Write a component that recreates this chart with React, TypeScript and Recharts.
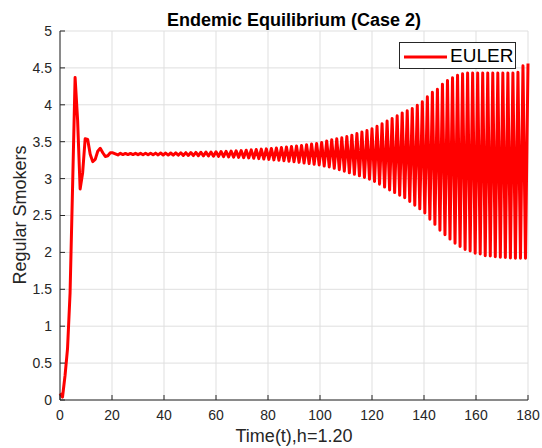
import { CartesianGrid, Line, LineChart, XAxis, YAxis } from "recharts";

// Euler iterates of the regular-smoker class
const timeStep = 180 / 186;
const regularSmokers = [
  0.09, 0.04, 0.33, 0.7, 1.45, 2.89, 4.37, 3.79, 2.86, 3.08,
  3.54, 3.53, 3.33, 3.23, 3.26, 3.37, 3.41, 3.35, 3.3, 3.31,
  3.35, 3.35, 3.335, 3.32, 3.343, 3.326, 3.341, 3.325, 3.341, 3.325,
  3.342, 3.324, 3.342, 3.323, 3.343, 3.322, 3.344, 3.322, 3.345, 3.321,
  3.346, 3.32, 3.346, 3.319, 3.347, 3.318, 3.349, 3.317, 3.35, 3.315,
  3.351, 3.314, 3.353, 3.312, 3.355, 3.31, 3.357, 3.308, 3.359, 3.306,
  3.361, 3.303, 3.364, 3.301, 3.367, 3.298, 3.37, 3.294, 3.373, 3.291,
  3.376, 3.288, 3.379, 3.284, 3.384, 3.28, 3.389, 3.275, 3.394, 3.27,
  3.399, 3.265, 3.403, 3.26, 3.409, 3.254, 3.415, 3.249, 3.421, 3.242,
  3.428, 3.235, 3.435, 3.228, 3.442, 3.22, 3.45, 3.212, 3.459, 3.203,
  3.468, 3.194, 3.477, 3.185, 3.49, 3.17, 3.51, 3.158, 3.528, 3.14,
  3.54, 3.12, 3.553, 3.1, 3.57, 3.078, 3.588, 3.058, 3.61, 3.038,
  3.632, 3.016, 3.652, 2.992, 3.675, 2.96, 3.71, 2.925, 3.743, 2.885,
  3.78, 2.845, 3.815, 2.81, 3.85, 2.775, 3.89, 2.74, 3.92, 2.69,
  3.95, 2.64, 3.995, 2.59, 4.04, 2.535, 4.11, 2.45, 4.17, 2.38,
  4.21, 2.3, 4.28, 2.24, 4.33, 2.18, 4.365, 2.125, 4.4, 2.08,
  4.42, 2.04, 4.43, 2.02, 4.43, 1.99, 4.43, 1.98, 4.43, 1.955,
  4.43, 1.95, 4.43, 1.94, 4.43, 1.935, 4.43, 1.93, 4.43, 1.925,
  4.43, 1.92, 4.44, 1.92, 4.53, 1.92, 4.56,
];

const timeTicks = [0, 20, 40, 60, 80, 100, 120, 140, 160, 180];
const levelTicks = [0, 0.5, 1, 1.5, 2, 2.5, 3, 3.5, 4, 4.5, 5];

const chartData = regularSmokers.map((value, index) => ({
  time: index * timeStep,
  smokers: value,
}));

const FONT = "Arial, 'Liberation Sans', Helvetica, sans-serif";
const INK = "#262626";

export default function App() {
  return (
    <div
      style={{
        position: "fixed",
        left: 0,
        top: 0,
        width: 542,
        height: 448,
        background: "#fff",
        fontFamily: FONT,
        overflow: "hidden",
      }}
    >
      <LineChart
        width={542}
        height={448}
        data={chartData}
        margin={{ top: 31, right: 14, bottom: 0, left: 0 }}
      >
        <CartesianGrid stroke="#dfdfdf" />
        <XAxis
          dataKey="time"
          type="number"
          domain={[0, 180]}
          ticks={timeTicks}
          interval={0}
          height={48}
          stroke={INK}
          tickSize={-5}
          tickMargin={15}
          tick={{ fill: INK, fontSize: 14, fontFamily: FONT }}
        />
        <XAxis
          xAxisId="top"
          orientation="top"
          type="number"
          domain={[0, 180]}
          ticks={timeTicks}
          interval={0}
          height={0}
          stroke={INK}
          tickSize={-5}
          tick={false}
        />
        <YAxis
          type="number"
          domain={[0, 5]}
          ticks={levelTicks}
          interval={0}
          width={60}
          stroke={INK}
          tickSize={-5}
          tickMargin={13}
          tick={{ fill: INK, fontSize: 14, fontFamily: FONT }}
        />
        <YAxis
          yAxisId="right"
          orientation="right"
          type="number"
          domain={[0, 5]}
          ticks={levelTicks}
          interval={0}
          width={0}
          stroke={INK}
          tickSize={-5}
          tick={false}
        />
        <Line
          type="linear"
          dataKey="smokers"
          stroke="#ff0000"
          strokeWidth={3}
          strokeLinejoin="round"
          dot={false}
          isAnimationActive={false}
        />
      </LineChart>

      <div
        style={{
          position: "absolute",
          left: 60,
          width: 468,
          top: 10,
          lineHeight: "20px",
          fontSize: 18,
          fontWeight: "bold",
          textAlign: "center",
          color: "#000",
        }}
      >
        Endemic Equilibrium (Case 2)
      </div>

      <div
        style={{
          position: "absolute",
          left: 60,
          width: 468,
          top: 426,
          lineHeight: "20px",
          fontSize: 18,
          textAlign: "center",
          color: INK,
        }}
      >
        Time(t),h=1.20
      </div>

      <div
        style={{
          position: "absolute",
          left: -80,
          top: 205,
          width: 200,
          lineHeight: "20px",
          fontSize: 18,
          textAlign: "center",
          color: INK,
          transform: "rotate(-90deg)",
        }}
      >
        Regular Smokers
      </div>

      <div
        style={{
          position: "absolute",
          left: 399,
          top: 42,
          width: 117,
          height: 27,
          boxSizing: "border-box",
          border: `1px solid ${INK}`,
          background: "#fff",
        }}
      >
        <svg
          width={46}
          height={25}
          style={{ position: "absolute", left: 2, top: 0 }}
        >
          <line x1={2} x2={45} y1={14} y2={14} stroke="#ff0000" strokeWidth={3} />
        </svg>
        <span
          style={{
            position: "absolute",
            left: 50,
            top: 2,
            lineHeight: "22px",
            fontSize: 19,
            color: "#000",
          }}
        >
          EULER
        </span>
      </div>
    </div>
  );
}
